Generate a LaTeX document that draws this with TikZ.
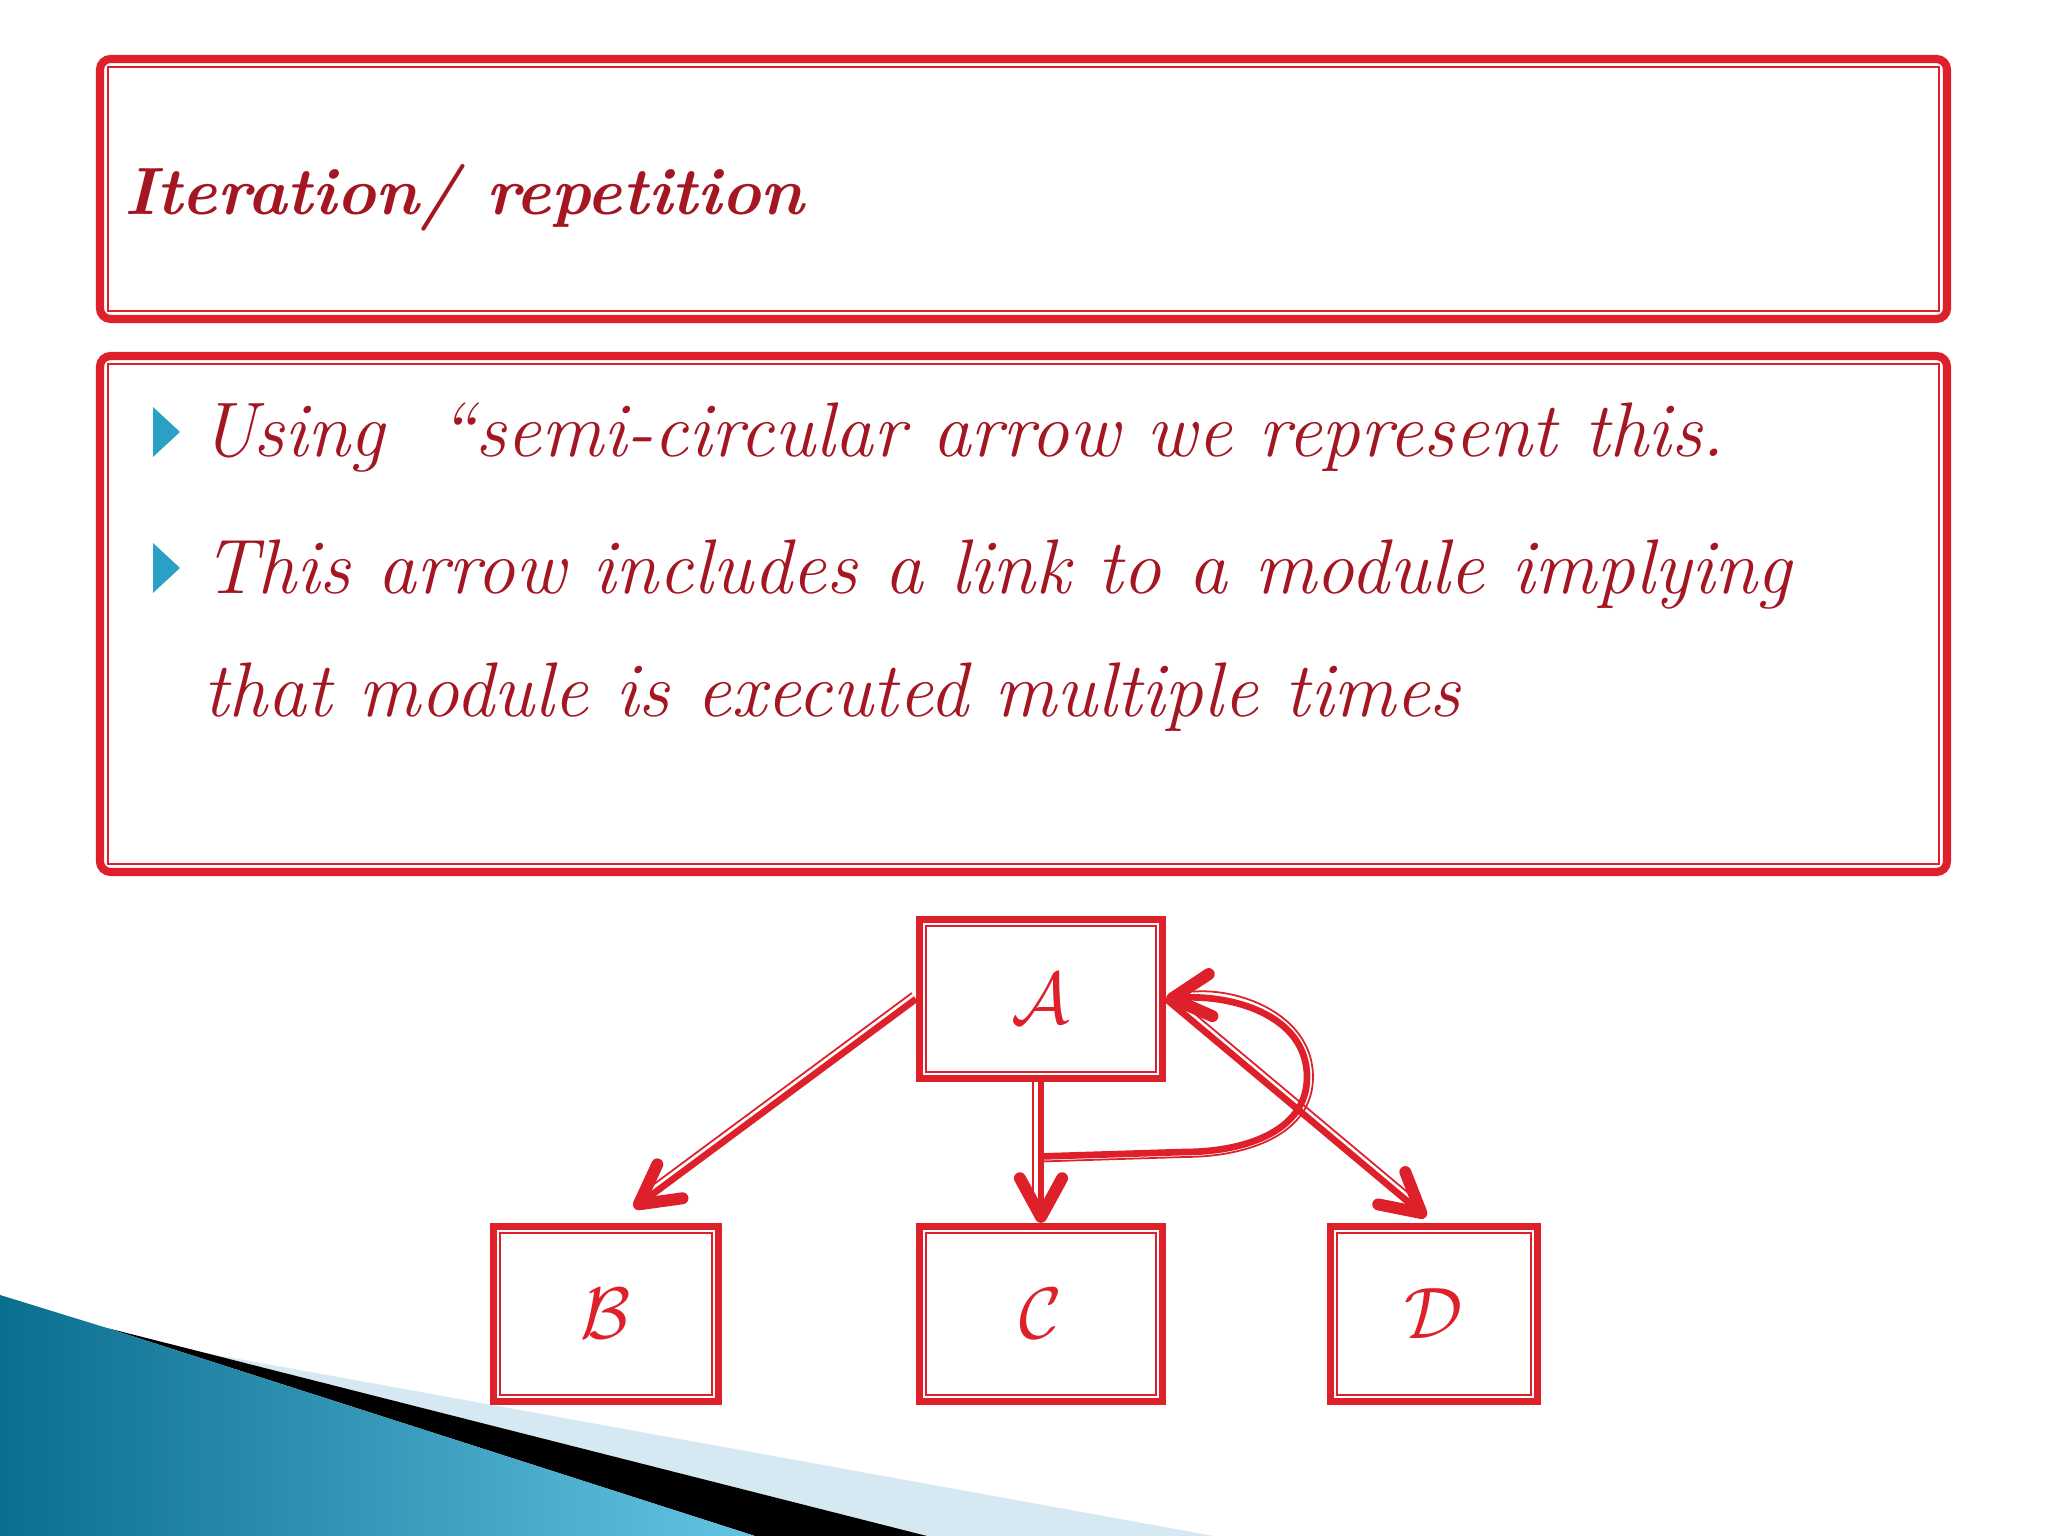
\documentclass[tikz,border=0pt]{standalone}
\usepackage{amsmath,amssymb}
\usetikzlibrary{arrows.meta}
\definecolor{R1}{RGB}{221,32,42}
\definecolor{R2}{RGB}{163,22,34}
\definecolor{T1}{RGB}{43,160,196}
\definecolor{T2}{RGB}{10,110,142}
\definecolor{T3}{RGB}{100,196,228}
\definecolor{L1}{RGB}{214,233,242}

\begin{document}
\begin{tikzpicture}[x=0.01cm, y=0.01cm,
    module/.style={draw=R1, line width=2pt, fill=white, minimum height=1.75cm,
      text=R1, font=\fontsize{21}{25}\selectfont,
      path picture={\draw[R1, line width=0.45pt]
        ([shift={(1.8pt,-1.8pt)}]path picture bounding box.north west) rectangle
        ([shift={(-1.8pt,1.8pt)}]path picture bounding box.south east);}},
    link/.style={R1, line width=1.9pt,
      -{Straight Barb[length=11pt, width=12pt, line width=3.4pt, round]}},
    linkthin/.style={R1, line width=0.5pt, shorten >=0.15cm},
    bodytext/.style={anchor=base west, inner sep=0pt, text=R2,
      font=\fontsize{22}{26}\selectfont\itshape}]
      \fill[white] (0,0) rectangle (2048,1536);
      \useasboundingbox (0,0) rectangle (2048,1536);
      % corner ribbon
      \fill[L1] (200,184) -- (1214,0) -- (927,0) -- cycle;
      \fill[black] (107,208) -- (927,0) -- (755,0) -- cycle;
      \shade[left color=T2, right color=T3]
        (0,241) -- (107,208) -- (755,0) -- (0,0) -- cycle;
      % frames
      \draw[R1, line width=2.3pt, rounded corners=3pt] (100,1477) rectangle (1947,1217);
      \draw[R1, line width=0.6pt] (108,1469) rectangle (1939,1225);
      \draw[R1, line width=2.3pt, rounded corners=3pt] (100,1180) rectangle (1947,664);
      \draw[R1, line width=0.6pt] (108,1172) rectangle (1939,672);
      \node[anchor=base west, inner sep=0pt, text=R2,
        font=\fontsize{19}{23}\selectfont\bfseries\itshape] (title) at (124,1321) {Iteration/ repetition};
      \foreach \y in {1104, 968} \fill[T1] (153,\y+25) -- (180,\y) -- (153,\y-25) -- cycle;
      \node[bodytext] (line1) at (200,1079) {Using\ \ “semi-circular arrow we represent this.};
      \node[bodytext] (line2) at (203,942) {This arrow includes a link to a module implying};
      \node[bodytext] (line3) at (203,819) {that module is executed multiple times};
      % modules
      \node[module, minimum width=2.43cm, minimum height=1.58cm] (A) at (1041,537) {$\mathcal{A}$};
      \node[module, minimum width=2.25cm] (B) at (606,222) {$\mathcal{B}$};
      \node[module, minimum width=2.43cm] (C) at (1041,222) {$\mathcal{C}$};
      \node[module, minimum width=2.07cm] (D) at (1434,222) {$\mathcal{D}$};
      \path (A.south) -- (C.north) coordinate[pos=0.53] (loopfoot);
      \coordinate (loopbend) at (1185,384);
      \coordinate (loopside) at (1307,459);
      % links
      \draw[link] (A.west) -- ([shift={(28,15)}]B.north);
      \draw[linkthin, transform canvas={shift={(-4,6)}}] (A.west) -- ([shift={(28,15)}]B.north);
      \draw[link] (A.south) -- (C.north);
      \draw[linkthin, transform canvas={shift={(-8,0)}}] (A.south) -- (C.north);
      \draw[link] (A.east) -- ([shift={(-8,6)}]D.north);
      \draw[linkthin, transform canvas={shift={(5,5)}}] (A.east) -- ([shift={(-8,6)}]D.north);
      \draw[link] (loopfoot) -- (loopbend) to[out=0, in=-90] (loopside) to[out=90, in=5] (A.east);
      \draw[linkthin] ([shift={(0,-5)}]loopfoot) -- ([shift={(0,-5)}]loopbend) to[out=0, in=-90]
        ([shift={(6,0)}]loopside) to[out=90, in=5] ([shift={(12,6)}]A.east);
\end{tikzpicture}
\end{document}
